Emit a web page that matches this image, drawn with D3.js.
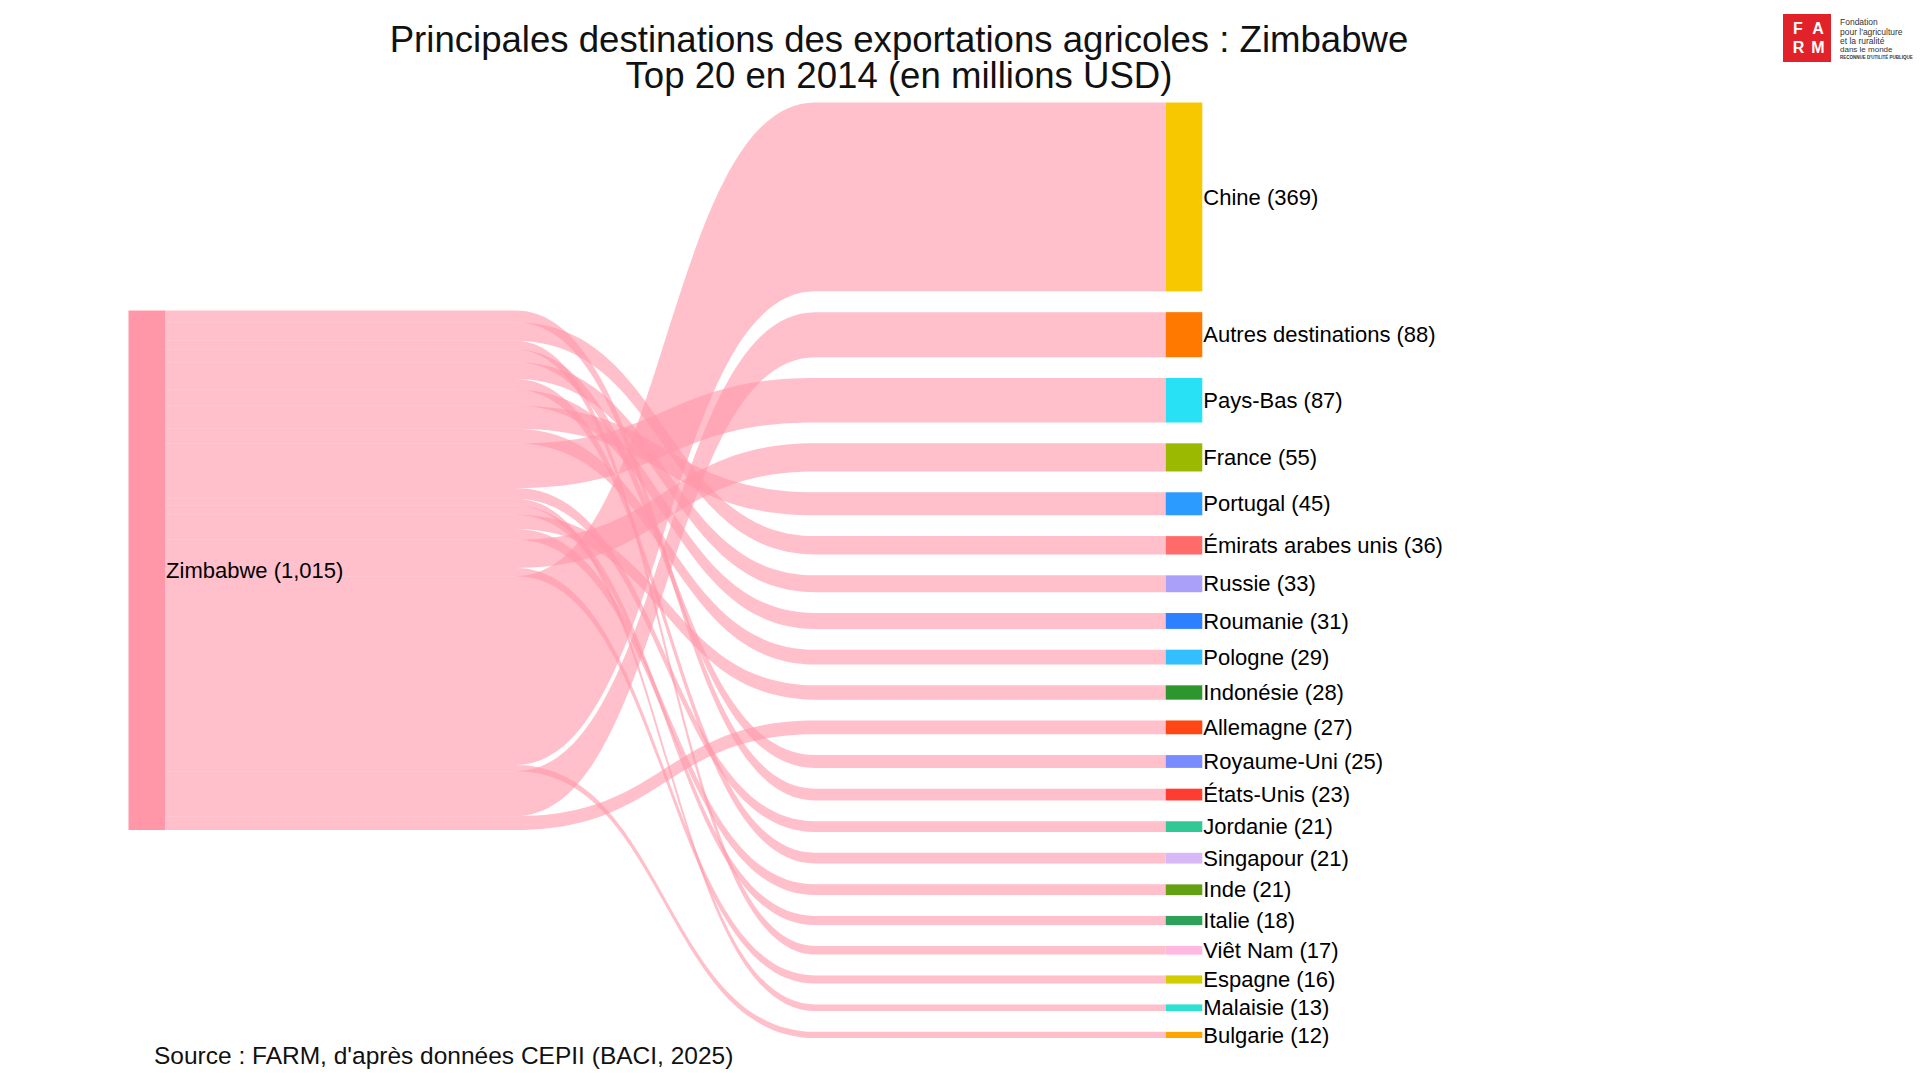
<!DOCTYPE html>
<html>
<head>
<meta charset="utf-8">
<script src="https://d3js.org/d3.v7.min.js"></script>
<style>
  body { margin: 0; background: #fff; }
  text { font-family: Arial, "Liberation Sans", sans-serif; }
</style>
</head>
<body>
<svg width="1920" height="1080"></svg>
<script>
// data
const origin = "Zimbabwe";
const destinations = ["Chine", "Autres destinations", "Pays-Bas", "France", "Portugal",
  "Émirats arabes unis", "Russie", "Roumanie", "Pologne", "Indonésie", "Allemagne",
  "Royaume-Uni", "États-Unis", "Jordanie", "Singapour", "Inde", "Italie", "Viêt Nam",
  "Espagne", "Malaisie", "Bulgarie"];
const exportValues = [369, 88, 87, 55, 45, 36, 33, 31, 29, 28, 27, 25, 23, 21, 21, 21, 18, 17, 16, 13, 12];
const nodeColors = ["#F7C800", "#FF7800", "#29E1F5", "#9BB900", "#2C9BFF", "#FF6B6B", "#AAA0FA",
  "#2D80FF", "#32BEFF", "#2D962D", "#FF4614", "#788CFF", "#FF3C32", "#32C896", "#D7B9FA",
  "#64A014", "#2DA05A", "#FFB9E1", "#D2CD00", "#2DE1D2", "#FFA500"];
// order in which the flows leave the Zimbabwe node, top to bottom
const linkOrder = ["États-Unis", "Émirats arabes unis", "Viêt Nam", "Royaume-Uni", "Russie",
  "Singapour", "Roumanie", "Portugal", "Pologne", "Pays-Bas", "Jordanie", "Malaisie", "Italie",
  "Indonésie", "Inde", "France", "Espagne", "Chine", "Bulgarie", "Autres destinations", "Allemagne"];

const titleLines = ["Principales destinations des exportations agricoles : Zimbabwe",
  "Top 20 en 2014 (en millions USD)"];
const sourceNote = "Source : FARM, d'après données CEPII (BACI, 2025)";

var svg = d3.select("svg");
var fmt = d3.format(",");

var yTop = 102.5, yBottom = 1038, pad = 20.8, nodeW = 36.6;
var total = d3.sum(exportValues);

var h = d3.scaleLinear()
  .domain([0, total])
  .range([0, yBottom - yTop - pad * (destinations.length - 1)]);
var x = d3.scaleLinear()
  .domain([0, 1])
  .range([128.5, 1165.7]);

// destination nodes, stacked
var yy = yTop;
var nodes = destinations.map(function (name, i) {
  var n = { name: name, value: exportValues[i], color: nodeColors[i],
            x0: x(1), x1: x(1) + nodeW, y0: yy, y1: yy + h(exportValues[i]) };
  yy = n.y1 + pad;
  return n;
});

var srcH = h(total);
var yMid = (yTop + yBottom) / 2;
var src = { name: origin, value: total, color: "#FF97A8",
            x0: x(0), x1: x(0) + nodeW,
            y0: yMid - srcH / 2, y1: yMid + srcH / 2 };

var sy = src.y0;
var links = linkOrder.map(function (name) {
  var t = nodes.find(function (n) { return n.name === name; });
  var w = h(t.value);
  var l = { w: w, y0: sy + w / 2, y1: (t.y0 + t.y1) / 2, target: t };
  sy += w;
  return l;
});

function linkPath(d) {
  var x0 = src.x1, x1 = d.target.x0, L = x1 - x0;
  var a = x0 + L * 0.35, b = x1 - L * 0.35, m = (a + b) / 2;
  var t0 = d.y0 - d.w / 2, t1 = d.y1 - d.w / 2, b0 = d.y0 + d.w / 2, b1 = d.y1 + d.w / 2;
  var p = d3.path();
  p.moveTo(x0, t0);
  p.lineTo(a, t0);
  p.bezierCurveTo(m, t0, m, t1, b, t1);
  p.lineTo(x1, t1);
  p.lineTo(x1, b1);
  p.lineTo(b, b1);
  p.bezierCurveTo(m, b1, m, b0, a, b0);
  p.lineTo(x0, b0);
  p.closePath();
  return p.toString();
}

svg.append("g")
  .selectAll("path")
  .data(links)
  .enter().append("path")
  .attr("d", linkPath)
  .attr("fill", "rgb(255,150,168)")
  .attr("fill-opacity", 0.6);

var allNodes = [src].concat(nodes);
svg.append("g")
  .selectAll("rect")
  .data(allNodes)
  .enter().append("rect")
  .attr("x", function (d) { return d.x0; })
  .attr("y", function (d) { return d.y0; })
  .attr("width", function (d) { return d.x1 - d.x0; })
  .attr("height", function (d) { return d.y1 - d.y0; })
  .attr("fill", function (d) { return d.color; });

svg.append("g")
  .selectAll("text")
  .data(allNodes)
  .enter().append("text")
  .attr("x", function (d) { return d.x1 + 1; })
  .attr("y", function (d) { return (d.y0 + d.y1) / 2; })
  .attr("dy", "0.35em")
  .attr("font-size", 22)
  .attr("fill", "#000")
  .text(function (d) { return d.name + " (" + fmt(d.value) + ")"; });

// title
svg.append("g")
  .selectAll("text")
  .data(titleLines)
  .enter().append("text")
  .attr("x", 899)
  .attr("y", function (d, i) { return 51.5 + i * 36.8; })
  .attr("text-anchor", "middle")
  .attr("font-size", 36.6)
  .attr("fill", "#111")
  .text(function (d) { return d; });

svg.append("text")
  .attr("x", 154)
  .attr("y", 1064)
  .attr("font-size", 24.5)
  .attr("fill", "#111")
  .text(sourceNote);

// FARM logo
var logo = svg.append("g");
logo.append("rect")
  .attr("x", 1783).attr("y", 14)
  .attr("width", 48).attr("height", 48)
  .attr("fill", "#E2222B");
[["F", 1798, 33.5], ["A", 1818, 33.5], ["R", 1798.5, 53], ["M", 1818, 53]].forEach(function (c) {
  logo.append("text")
    .attr("x", c[1]).attr("y", c[2])
    .attr("text-anchor", "middle")
    .attr("font-size", 16)
    .attr("font-weight", "bold")
    .attr("fill", "#fff")
    .text(c[0]);
});
[["Fondation", 25, 8.5], ["pour l'agriculture", 34.5, 8.5], ["et la ruralité", 43.5, 8.5],
 ["dans le monde", 51.5, 8], ["RECONNUE D'UTILITÉ PUBLIQUE", 59, 4.5]].forEach(function (t) {
  logo.append("text")
    .attr("x", 1840).attr("y", t[1])
    .attr("font-size", t[2])
    .attr("font-weight", t[2] < 5 ? "bold" : "normal")
    .attr("fill", "#333")
    .text(t[0]);
});
</script>
</body>
</html>
